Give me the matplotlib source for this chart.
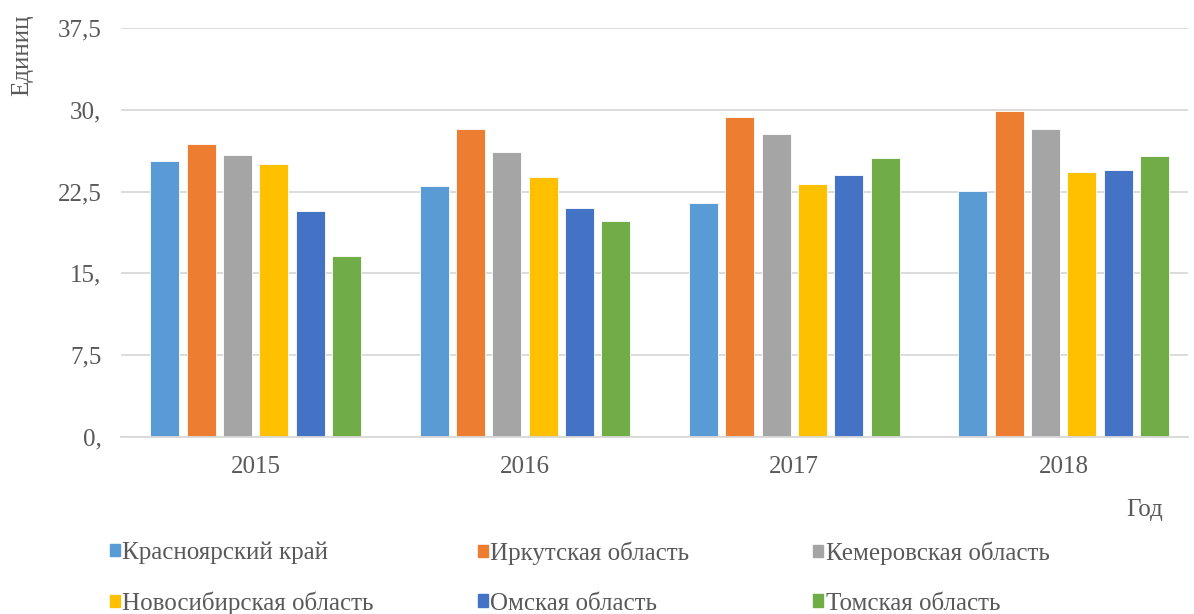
import matplotlib
matplotlib.use("Agg")
import matplotlib.pyplot as plt
import numpy as np
from matplotlib.patches import Patch

years = ["2015", "2016", "2017", "2018"]
regions = ["Красноярский край", "Иркутская область", "Кемеровская область",
           "Новосибирская область", "Омская область", "Томская область"]
krasnoyarsk = [25.3, 23.0, 21.5, 22.6]
irkutsk = [26.9, 28.25, 29.3, 29.9]
kemerovo = [25.9, 26.1, 27.8, 28.2]
novosibirsk = [25.05, 23.8, 23.2, 24.3]
omsk = [20.75, 21.0, 24.05, 24.5]
tomsk = [16.6, 19.85, 25.55, 25.8]
series = [krasnoyarsk, irkutsk, kemerovo, novosibirsk, omsk, tomsk]
colors = ["#5B9BD5", "#ED7D31", "#A5A5A5", "#FFC000", "#4472C4", "#70AD47"]
yticks = [0, 7.5, 15, 22.5, 30, 37.5]
ytick_labels = ["0,", "7,5", "15,", "22,5", "30,", "37,5"]

plt.rcParams['font.family'] = ['Liberation Serif', 'DejaVu Serif']
txt = "#595959"

fig = plt.figure(figsize=(11.94, 6.14), dpi=100)
ax = fig.add_axes([121/1194, 1-437/614, (1188-121)/1194, (437-28)/614])

x = np.arange(len(years))
cat = 269.3
step = 36.3 / cat
width = 29.0 / cat
for i, (vals, c) in enumerate(zip(series, colors)):
    ax.bar(x + (i - 2.5) * step, vals, width=width, color=c, zorder=3,
           edgecolor='white', linewidth=0.6, label=regions[i])

ax.set_xlim(-0.5, -0.5 + (1188 - 121) / cat)
ax.set_ylim(0, 37.5)
ax.set_yticks(yticks)
ax.set_yticklabels(ytick_labels)
ax.set_xticks(x)
ax.set_xticklabels(years)
ax.grid(axis='y', color='#D9D9D9', linewidth=1.3, zorder=0)
for s in ['top', 'right', 'left']:
    ax.spines[s].set_visible(False)
ax.spines['bottom'].set_color('#D9D9D9')
ax.spines['bottom'].set_linewidth(1.3)
ax.spines['bottom'].set_zorder(4)
ax.tick_params(axis='both', length=0, labelsize=18, colors=txt)
ax.tick_params(axis='x', pad=14)
ax.tick_params(axis='y', pad=14)

fig.text(22/1194, 1-55/614, "Единиц", rotation=90, ha='center', va='center', fontsize=18, color=txt)
fig.text(1145/1194, 1-510/614, "Год", ha='center', va='center', fontsize=18, color=txt)

cols = [(0, 3), (1, 4), (2, 5)]
xs = [110, 478, 813]
for (a, b), xp in zip(cols, xs):
    handles = [Patch(color=colors[a]), Patch(color=colors[b])]
    leg = fig.legend(handles, [regions[a], regions[b]], loc='center left',
                     bbox_to_anchor=(xp/1194, 1-578/614), frameon=False,
                     fontsize=18, handlelength=0.4, handleheight=0.4,
                     handletextpad=0.1, labelspacing=1.1, borderaxespad=0,
                     borderpad=0)
    for t in leg.get_texts():
        t.set_color(txt)

fig.savefig("out.png", dpi=100)
